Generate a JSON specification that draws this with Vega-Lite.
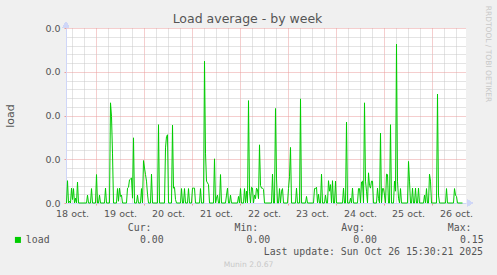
{
  "$schema": "https://vega.github.io/schema/vega-lite/v6.json",
  "width": 400,
  "height": 175,
  "autosize": "none",
  "padding": {"left": 66, "top": 28, "right": 31, "bottom": 72},
  "background": "#f0f0f0",
  "config": {"font": "DejaVu Sans", "view": {"fill": "white", "stroke": null}},
  "title": {"text": "Load average - by week", "font": "DejaVu Sans", "fontSize": 12.5, "fontWeight": "normal", "color": "#555555", "anchor": "middle", "dx": -18.5, "dy": 23, "offset": 3},
  "datasets": {
    "load": [
      {"t":"2025-10-18T09:15","v":0},{"t":"2025-10-18T09:45","v":0.0051},{"t":"2025-10-18T10:15","v":0},{"t":"2025-10-18T10:45","v":0.0004},{"t":"2025-10-18T11:15","v":0},{"t":"2025-10-18T11:45","v":0.0034},{"t":"2025-10-18T12:15","v":0.0008},{"t":"2025-10-18T12:45","v":0.0033},{"t":"2025-10-18T13:15","v":0},{"t":"2025-10-18T13:45","v":0.0011},{"t":"2025-10-18T14:15","v":0},{"t":"2025-10-18T14:45","v":0.0048},{"t":"2025-10-18T15:15","v":0},{"t":"2025-10-18T19:15","v":0},{"t":"2025-10-18T19:45","v":0.0018},{"t":"2025-10-18T20:15","v":0},{"t":"2025-10-18T21:15","v":0},{"t":"2025-10-18T21:45","v":0.0033},{"t":"2025-10-18T22:15","v":0},{"t":"2025-10-18T23:45","v":0},
      {"t":"2025-10-19T00:15","v":0.0065},{"t":"2025-10-19T00:45","v":0},{"t":"2025-10-19T01:15","v":0},{"t":"2025-10-19T01:45","v":0.0018},{"t":"2025-10-19T02:15","v":0},{"t":"2025-10-19T04:15","v":0},{"t":"2025-10-19T04:45","v":0.0034},{"t":"2025-10-19T05:15","v":0},{"t":"2025-10-19T06:45","v":0},{"t":"2025-10-19T07:15","v":0.0229},{"t":"2025-10-19T07:45","v":0.0198},{"t":"2025-10-19T08:15","v":0.0114},{"t":"2025-10-19T08:45","v":0},{"t":"2025-10-19T10:15","v":0},{"t":"2025-10-19T10:45","v":0.0033},{"t":"2025-10-19T11:15","v":0.0004},{"t":"2025-10-19T11:45","v":0.0034},{"t":"2025-10-19T12:15","v":0.0015},{"t":"2025-10-19T12:45","v":0.0018},{"t":"2025-10-19T13:15","v":0},{"t":"2025-10-19T15:15","v":0},{"t":"2025-10-19T15:45","v":0.0034},{"t":"2025-10-19T16:15","v":0.0036},{"t":"2025-10-19T16:45","v":0.0053},{"t":"2025-10-19T17:15","v":0.0055},{"t":"2025-10-19T17:45","v":0.0057},{"t":"2025-10-19T18:15","v":0.0011},{"t":"2025-10-19T18:45","v":0.0149},{"t":"2025-10-19T19:15","v":0},{"t":"2025-10-19T20:15","v":0},{"t":"2025-10-19T20:45","v":0.0018},{"t":"2025-10-19T21:15","v":0},{"t":"2025-10-19T22:15","v":0},{"t":"2025-10-19T22:45","v":0.0033},{"t":"2025-10-19T23:15","v":0},{"t":"2025-10-19T23:45","v":0.0097},
      {"t":"2025-10-20T00:15","v":0.0080},{"t":"2025-10-20T00:45","v":0.0065},{"t":"2025-10-20T01:15","v":0.0050},{"t":"2025-10-20T01:45","v":0.0020},{"t":"2025-10-20T02:15","v":0},{"t":"2025-10-20T03:15","v":0},{"t":"2025-10-20T03:45","v":0.0066},{"t":"2025-10-20T04:15","v":0},{"t":"2025-10-20T06:45","v":0},{"t":"2025-10-20T07:15","v":0.0179},{"t":"2025-10-20T07:45","v":0},{"t":"2025-10-20T10:15","v":0},{"t":"2025-10-20T10:45","v":0.0126},{"t":"2025-10-20T11:15","v":0.0152},{"t":"2025-10-20T11:45","v":0.0156},{"t":"2025-10-20T12:15","v":0},{"t":"2025-10-20T13:45","v":0},{"t":"2025-10-20T14:15","v":0.0178},{"t":"2025-10-20T14:45","v":0.0034},{"t":"2025-10-20T15:15","v":0.0036},{"t":"2025-10-20T15:45","v":0.0008},{"t":"2025-10-20T16:15","v":0},{"t":"2025-10-20T18:15","v":0},{"t":"2025-10-20T18:45","v":0.0033},{"t":"2025-10-20T19:15","v":0},{"t":"2025-10-20T19:45","v":0},{"t":"2025-10-20T20:15","v":0.0033},{"t":"2025-10-20T20:45","v":0},{"t":"2025-10-20T21:45","v":0},{"t":"2025-10-20T22:15","v":0.0033},{"t":"2025-10-20T22:45","v":0},{"t":"2025-10-20T23:45","v":0},
      {"t":"2025-10-21T00:15","v":0.0034},{"t":"2025-10-21T00:45","v":0.0034},{"t":"2025-10-21T01:15","v":0.0034},{"t":"2025-10-21T01:45","v":0},{"t":"2025-10-21T03:45","v":0},{"t":"2025-10-21T04:15","v":0.0033},{"t":"2025-10-21T04:45","v":0},{"t":"2025-10-21T05:45","v":0},{"t":"2025-10-21T06:15","v":0.0324},{"t":"2025-10-21T06:45","v":0.0114},{"t":"2025-10-21T07:15","v":0.0050},{"t":"2025-10-21T07:45","v":0.0046},{"t":"2025-10-21T08:15","v":0.0042},{"t":"2025-10-21T08:45","v":0},{"t":"2025-10-21T10:45","v":0},{"t":"2025-10-21T11:15","v":0.0101},{"t":"2025-10-21T11:45","v":0},{"t":"2025-10-21T12:15","v":0.0011},{"t":"2025-10-21T12:45","v":0.0018},{"t":"2025-10-21T13:15","v":0},{"t":"2025-10-21T13:45","v":0},{"t":"2025-10-21T14:15","v":0.0065},{"t":"2025-10-21T14:45","v":0},{"t":"2025-10-21T16:45","v":0},{"t":"2025-10-21T17:15","v":0.0018},{"t":"2025-10-21T17:45","v":0.0034},{"t":"2025-10-21T18:15","v":0},{"t":"2025-10-21T18:45","v":0},{"t":"2025-10-21T19:15","v":0.0018},{"t":"2025-10-21T19:45","v":0},{"t":"2025-10-21T22:45","v":0},{"t":"2025-10-21T23:15","v":0.0015},{"t":"2025-10-21T23:45","v":0},
      {"t":"2025-10-22T00:15","v":0.0033},{"t":"2025-10-22T00:45","v":0},{"t":"2025-10-22T01:45","v":0},{"t":"2025-10-22T02:15","v":0.0033},{"t":"2025-10-22T02:45","v":0},{"t":"2025-10-22T03:15","v":0.0027},{"t":"2025-10-22T03:45","v":0},{"t":"2025-10-22T04:15","v":0.0234},{"t":"2025-10-22T04:45","v":0.0027},{"t":"2025-10-22T05:15","v":0},{"t":"2025-10-22T05:45","v":0.0036},{"t":"2025-10-22T06:15","v":0.0034},{"t":"2025-10-22T06:45","v":0},{"t":"2025-10-22T07:15","v":0.0018},{"t":"2025-10-22T07:45","v":0.0010},{"t":"2025-10-22T08:15","v":0.0034},{"t":"2025-10-22T08:45","v":0.0030},{"t":"2025-10-22T09:15","v":0.0010},{"t":"2025-10-22T09:45","v":0.0133},{"t":"2025-10-22T10:15","v":0.0040},{"t":"2025-10-22T10:45","v":0.0034},{"t":"2025-10-22T11:15","v":0.0034},{"t":"2025-10-22T11:45","v":0.0031},{"t":"2025-10-22T12:15","v":0},{"t":"2025-10-22T15:45","v":0},{"t":"2025-10-22T16:15","v":0.0066},{"t":"2025-10-22T16:45","v":0},{"t":"2025-10-22T17:15","v":0},{"t":"2025-10-22T17:45","v":0.0216},{"t":"2025-10-22T18:15","v":0.0057},{"t":"2025-10-22T18:45","v":0},{"t":"2025-10-22T19:15","v":0},{"t":"2025-10-22T19:45","v":0.0033},{"t":"2025-10-22T20:15","v":0},{"t":"2025-10-22T20:45","v":0.0027},{"t":"2025-10-22T21:15","v":0.0033},{"t":"2025-10-22T21:45","v":0},{"t":"2025-10-22T23:45","v":0},
      {"t":"2025-10-23T00:15","v":0.0033},{"t":"2025-10-23T00:45","v":0.0060},{"t":"2025-10-23T01:15","v":0.0127},{"t":"2025-10-23T01:45","v":0},{"t":"2025-10-23T03:45","v":0},{"t":"2025-10-23T04:15","v":0.0034},{"t":"2025-10-23T04:45","v":0},{"t":"2025-10-23T05:45","v":0},{"t":"2025-10-23T06:15","v":0.0238},{"t":"2025-10-23T06:45","v":0},{"t":"2025-10-23T08:45","v":0},{"t":"2025-10-23T09:15","v":0.0015},{"t":"2025-10-23T09:45","v":0},{"t":"2025-10-23T12:45","v":0},{"t":"2025-10-23T13:15","v":0.0033},{"t":"2025-10-23T13:45","v":0.0033},{"t":"2025-10-23T14:15","v":0.0036},{"t":"2025-10-23T14:45","v":0},{"t":"2025-10-23T15:15","v":0.0020},{"t":"2025-10-23T15:45","v":0},{"t":"2025-10-23T16:15","v":0},{"t":"2025-10-23T16:45","v":0.0066},{"t":"2025-10-23T17:15","v":0},{"t":"2025-10-23T18:15","v":0},{"t":"2025-10-23T18:45","v":0.0018},{"t":"2025-10-23T19:15","v":0},{"t":"2025-10-23T19:45","v":0},{"t":"2025-10-23T20:15","v":0.0051},{"t":"2025-10-23T20:45","v":0.0027},{"t":"2025-10-23T21:15","v":0.0042},{"t":"2025-10-23T21:45","v":0},{"t":"2025-10-23T22:15","v":0.0051},{"t":"2025-10-23T22:45","v":0},{"t":"2025-10-23T23:15","v":0},{"t":"2025-10-23T23:45","v":0.0050},
      {"t":"2025-10-24T00:15","v":0},{"t":"2025-10-24T03:15","v":0},{"t":"2025-10-24T03:45","v":0.0034},{"t":"2025-10-24T04:15","v":0},{"t":"2025-10-24T04:45","v":0},{"t":"2025-10-24T05:15","v":0.0185},{"t":"2025-10-24T05:45","v":0},{"t":"2025-10-24T06:45","v":0},{"t":"2025-10-24T07:15","v":0.0011},{"t":"2025-10-24T07:45","v":0},{"t":"2025-10-24T08:15","v":0.0034},{"t":"2025-10-24T08:45","v":0},{"t":"2025-10-24T10:45","v":0},{"t":"2025-10-24T11:15","v":0.0033},{"t":"2025-10-24T11:45","v":0.0033},{"t":"2025-10-24T12:15","v":0},{"t":"2025-10-24T12:45","v":0.0048},{"t":"2025-10-24T13:15","v":0.0050},{"t":"2025-10-24T13:45","v":0},{"t":"2025-10-24T14:15","v":0.0229},{"t":"2025-10-24T14:45","v":0.0050},{"t":"2025-10-24T15:15","v":0.0027},{"t":"2025-10-24T15:45","v":0},{"t":"2025-10-24T16:15","v":0.0069},{"t":"2025-10-24T16:45","v":0.0040},{"t":"2025-10-24T17:15","v":0.0034},{"t":"2025-10-24T17:45","v":0.0050},{"t":"2025-10-24T18:15","v":0.0050},{"t":"2025-10-24T18:45","v":0},{"t":"2025-10-24T20:15","v":0},{"t":"2025-10-24T20:45","v":0.0034},{"t":"2025-10-24T21:15","v":0.0010},{"t":"2025-10-24T21:45","v":0},{"t":"2025-10-24T22:15","v":0.0160},{"t":"2025-10-24T22:45","v":0},{"t":"2025-10-24T23:15","v":0.0033},{"t":"2025-10-24T23:45","v":0.0033},
      {"t":"2025-10-25T00:15","v":0.0018},{"t":"2025-10-25T00:45","v":0},{"t":"2025-10-25T01:15","v":0.0066},{"t":"2025-10-25T01:45","v":0.0065},{"t":"2025-10-25T02:15","v":0},{"t":"2025-10-25T02:45","v":0},{"t":"2025-10-25T03:15","v":0.0179},{"t":"2025-10-25T03:45","v":0},{"t":"2025-10-25T04:45","v":0},{"t":"2025-10-25T05:15","v":0.0050},{"t":"2025-10-25T05:45","v":0.0027},{"t":"2025-10-25T06:15","v":0.0363},{"t":"2025-10-25T06:45","v":0.0050},{"t":"2025-10-25T07:15","v":0.0011},{"t":"2025-10-25T07:45","v":0},{"t":"2025-10-25T08:15","v":0.0033},{"t":"2025-10-25T08:45","v":0},{"t":"2025-10-25T11:45","v":0},{"t":"2025-10-25T12:15","v":0.0095},{"t":"2025-10-25T12:45","v":0.0050},{"t":"2025-10-25T13:15","v":0},{"t":"2025-10-25T13:45","v":0},{"t":"2025-10-25T14:15","v":0.0034},{"t":"2025-10-25T14:45","v":0},{"t":"2025-10-25T15:15","v":0},{"t":"2025-10-25T15:45","v":0.0034},{"t":"2025-10-25T16:15","v":0},{"t":"2025-10-25T16:45","v":0},{"t":"2025-10-25T17:15","v":0.0034},{"t":"2025-10-25T17:45","v":0},{"t":"2025-10-25T19:45","v":0},{"t":"2025-10-25T20:15","v":0.0018},{"t":"2025-10-25T20:45","v":0},{"t":"2025-10-25T21:15","v":0.0033},{"t":"2025-10-25T21:45","v":0},{"t":"2025-10-25T22:15","v":0},{"t":"2025-10-25T22:45","v":0.0066},{"t":"2025-10-25T23:15","v":0.0050},{"t":"2025-10-25T23:45","v":0},
      {"t":"2025-10-26T02:15","v":0},{"t":"2025-10-26T02:45","v":0.0249},{"t":"2025-10-26T03:15","v":0.0018},{"t":"2025-10-26T03:45","v":0},{"t":"2025-10-26T06:45","v":0},{"t":"2025-10-26T07:15","v":0.0033},{"t":"2025-10-26T07:45","v":0},{"t":"2025-10-26T10:45","v":0},{"t":"2025-10-26T11:15","v":0.0033},{"t":"2025-10-26T11:45","v":0.0018},{"t":"2025-10-26T12:15","v":0.0015},{"t":"2025-10-26T12:45","v":0},{"t":"2025-10-26T15:15","v":0}
    ]
  },
  "data": {"name": "load"},
  "resolve": {"axis": {"x": "independent", "y": "independent"}},
  "layer": [
    {
      "mark": {"type": "line", "opacity": 0},
      "encoding": {
        "x": {"field": "t", "type": "temporal",
          "scale": {"domain": [{"year": 2025, "month": 10, "date": 18, "hours": 9}, {"year": 2025, "month": 10, "date": 26, "hours": 17}]},
          "axis": {"orient": "bottom", "grid": true, "gridColor": "#c8c8c8", "gridDash": [1, 1], "labels": false, "ticks": false, "domain": false,
            "values": [
              {"year":2025,"month":10,"date":18,"hours":12},{"year":2025,"month":10,"date":18,"hours":18},
              {"year":2025,"month":10,"date":19,"hours":6},{"year":2025,"month":10,"date":19,"hours":12},{"year":2025,"month":10,"date":19,"hours":18},
              {"year":2025,"month":10,"date":20,"hours":6},{"year":2025,"month":10,"date":20,"hours":12},{"year":2025,"month":10,"date":20,"hours":18},
              {"year":2025,"month":10,"date":21,"hours":6},{"year":2025,"month":10,"date":21,"hours":12},{"year":2025,"month":10,"date":21,"hours":18},
              {"year":2025,"month":10,"date":22,"hours":6},{"year":2025,"month":10,"date":22,"hours":12},{"year":2025,"month":10,"date":22,"hours":18},
              {"year":2025,"month":10,"date":23,"hours":6},{"year":2025,"month":10,"date":23,"hours":12},{"year":2025,"month":10,"date":23,"hours":18},
              {"year":2025,"month":10,"date":24,"hours":6},{"year":2025,"month":10,"date":24,"hours":12},{"year":2025,"month":10,"date":24,"hours":18},
              {"year":2025,"month":10,"date":25,"hours":6},{"year":2025,"month":10,"date":25,"hours":12},{"year":2025,"month":10,"date":25,"hours":18},
              {"year":2025,"month":10,"date":26,"hours":6},{"year":2025,"month":10,"date":26,"hours":12}
            ],
            "title": "Munin 2.0.67", "titleX": 182, "titleY": 61, "titleAlign": "center", "titleBaseline": "middle", "titleFont": "DejaVu Sans", "titleFontSize": 7.6, "titleFontWeight": "normal", "titleColor": "#c8c8c8"}},
        "y": {"field": "v", "type": "quantitative",
          "scale": {"domain": [0, 0.04], "nice": false, "zero": true},
          "axis": {"orient": "left", "grid": true, "gridColor": "#c8c8c8", "gridDash": [1, 1], "labels": false, "ticks": false, "domain": false,
            "values": [0.002,0.004,0.006,0.008,0.012,0.014,0.016,0.018,0.022,0.024,0.026,0.028,0.032,0.034,0.036,0.038],
            "title": "0.00\u00a0\u00a0\u00a0\u00a0\u00a0\u00a0\u00a0\u00a0\u00a0\u00a0\u00a0\u00a0\u00a0\u00a00.00\u00a0\u00a0\u00a0\u00a0\u00a0\u00a0\u00a0\u00a0\u00a0\u00a0\u00a0\u00a0\u00a0\u00a00.00\u00a0\u00a0\u00a0\u00a0\u00a0\u00a0\u00a0\u00a0\u00a0\u00a0\u00a0\u00a0\u00a0\u00a00.15",
            "titleAngle": 0, "titleX": 73.4, "titleY": 211.3, "titleAlign": "left", "titleBaseline": "middle", "titleFont": "DejaVu Sans Mono", "titleFontSize": 9.85, "titleFontWeight": "normal", "titleColor": "#555555"}}
      }
    },
    {
      "mark": {"type": "line", "opacity": 0},
      "encoding": {
        "x": {"field": "t", "type": "temporal",
          "axis": {"orient": "bottom", "grid": true, "gridColor": "#eb9c9c", "gridDash": [1, 1], "labels": false, "ticks": true, "tickSize": 2, "tickColor": "#eb9c9c", "domain": false,
            "values": [
              {"year":2025,"month":10,"date":19},{"year":2025,"month":10,"date":20},{"year":2025,"month":10,"date":21},{"year":2025,"month":10,"date":22},
              {"year":2025,"month":10,"date":23},{"year":2025,"month":10,"date":24},{"year":2025,"month":10,"date":25},{"year":2025,"month":10,"date":26}
            ],
            "title": "Cur:\u00a0\u00a0\u00a0\u00a0\u00a0\u00a0\u00a0\u00a0\u00a0\u00a0\u00a0\u00a0\u00a0\u00a0Min:\u00a0\u00a0\u00a0\u00a0\u00a0\u00a0\u00a0\u00a0\u00a0\u00a0\u00a0\u00a0\u00a0\u00a0Avg:\u00a0\u00a0\u00a0\u00a0\u00a0\u00a0\u00a0\u00a0\u00a0\u00a0\u00a0\u00a0\u00a0\u00a0Max:",
            "titleX": 61.3, "titleY": 24.7, "titleAlign": "left", "titleBaseline": "middle", "titleFont": "DejaVu Sans Mono", "titleFontSize": 9.85, "titleFontWeight": "normal", "titleColor": "#555555"}},
        "y": {"field": "v", "type": "quantitative",
          "axis": {"orient": "left", "grid": true, "gridColor": "#eb9c9c", "gridDash": [1, 1], "values": [0, 0.01, 0.02, 0.03, 0.04], "format": ".1f",
            "labelFont": "DejaVu Sans", "labelFontSize": 9.5, "labelColor": "#555555", "labelPadding": 4,
            "ticks": true, "tickSize": 2, "tickColor": "#eb9c9c",
            "domain": true, "domainColor": "#cfd6f8",
            "title": "load", "titleX": -56, "titleY": 87.5, "titleAngle": -90, "titleAlign": "center", "titleBaseline": "middle", "titleFont": "DejaVu Sans", "titleFontSize": 11, "titleFontWeight": "normal", "titleColor": "#555555"}}
      }
    },
    {
      "mark": {"type": "line", "strokeWidth": 1, "interpolate": "linear"},
      "encoding": {
        "x": {"field": "t", "type": "temporal",
          "axis": {"orient": "bottom", "grid": false, "ticks": false, "domain": true, "domainColor": "#cfd6f8", "labelFlush": false,
            "values": [
              {"year":2025,"month":10,"date":18,"hours":12},{"year":2025,"month":10,"date":19,"hours":12},{"year":2025,"month":10,"date":20,"hours":12},
              {"year":2025,"month":10,"date":21,"hours":12},{"year":2025,"month":10,"date":22,"hours":12},{"year":2025,"month":10,"date":23,"hours":12},
              {"year":2025,"month":10,"date":24,"hours":12},{"year":2025,"month":10,"date":25,"hours":12},{"year":2025,"month":10,"date":26,"hours":12}
            ],
            "format": "%d oct.", "labelFont": "DejaVu Sans", "labelFontSize": 9.5, "labelColor": "#555555", "labelPadding": 5,
            "title": "Last update: Sun Oct 26 15:30:21 2025", "titleX": 416.5, "titleY": 48, "titleAlign": "right", "titleBaseline": "middle", "titleFont": "DejaVu Sans Mono", "titleFontSize": 9.85, "titleFontWeight": "normal", "titleColor": "#555555"}},
        "y": {"field": "v", "type": "quantitative", "axis": null},
        "color": {"datum": "load", "type": "nominal",
          "scale": {"range": ["#00cc00"]},
          "legend": {"orient": "none", "legendX": -53, "legendY": 207, "title": null, "padding": 0, "symbolType": "square", "symbolSize": 36,
            "labelFont": "DejaVu Sans Mono", "labelFontSize": 9.85, "labelColor": "#555555", "labelOffset": 3,
            "symbolFillColor": "#00cc00", "symbolStrokeWidth": 0,
            "encode": {"symbols": {"update": {"fill": {"value": "#00cc00"}, "stroke": {"value": "#00cc00"}, "strokeWidth": {"value": 0}, "opacity": {"value": 1}}}}}}
      }
    },
    {
      "mark": {"type": "point", "shape": "triangle-up", "filled": true, "size": 40, "color": "#cfd6f8", "opacity": 1, "yOffset": -3.5},
      "encoding": {
        "x": {"datum": {"year": 2025, "month": 10, "date": 18, "hours": 9}, "type": "temporal", "axis": null},
        "y": {"datum": 0.04, "type": "quantitative",
          "axis": {"orient": "right", "grid": false, "labels": false, "ticks": false, "domain": false,
            "title": "RRDTOOL / TOBI OETIKER", "titleX": 21, "titleY": 25.5, "titleAngle": 90, "titleAlign": "center", "titleBaseline": "middle", "titleFont": "DejaVu Sans", "titleFontSize": 7.5, "titleFontWeight": "normal", "titleColor": "#c8c8c8"}}
      }
    },
    {
      "mark": {"type": "point", "shape": "triangle-right", "filled": true, "size": 40, "color": "#cfd6f8", "opacity": 1, "xOffset": 4},
      "encoding": {
        "x": {"datum": {"year": 2025, "month": 10, "date": 26, "hours": 17}, "type": "temporal", "axis": null},
        "y": {"datum": 0, "type": "quantitative", "axis": null}
      }
    }
  ]
}
